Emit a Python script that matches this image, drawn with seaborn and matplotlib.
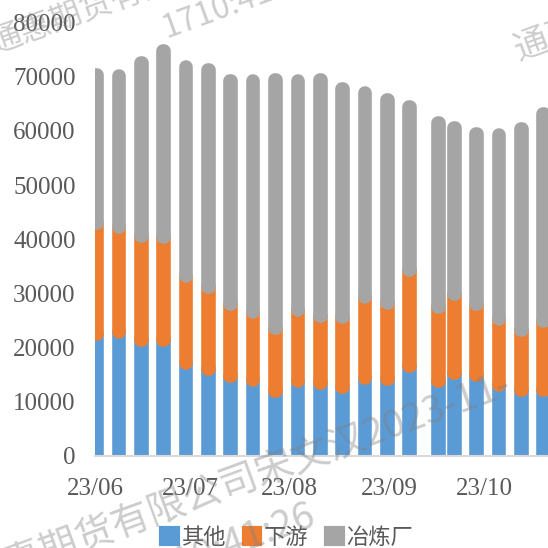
import numpy as np
import pandas as pd
import matplotlib
matplotlib.use("Agg")
import matplotlib.pyplot as plt
import matplotlib.dates as mdates
from matplotlib.patches import Patch
import seaborn as sns

# ---------------- data ----------------
dates = ["2023-06-01", "2023-06-08", "2023-06-15", "2023-06-22", "2023-06-29",
         "2023-07-06", "2023-07-13", "2023-07-20", "2023-07-27", "2023-08-03",
         "2023-08-10", "2023-08-17", "2023-08-24", "2023-08-31", "2023-09-07",
         "2023-09-16", "2023-09-21", "2023-09-28", "2023-10-05", "2023-10-12",
         "2023-10-19"]
other = [22510, 22900, 21480, 21310, 17160, 16090, 14850, 13950, 12030, 13750,
         13430, 12810, 14450, 14190, 16590, 13750, 15260, 14970, 13060, 12120, 12230]
downstream = [20390, 19390, 19090, 19130, 15980, 15000, 13180, 12660, 11630, 13170,
              12380, 12870, 14800, 14080, 17710, 13650, 14610, 13060, 12130, 11110, 12720]
smelter = [27430, 27880, 32000, 34320, 38710, 40190, 41120, 42540, 45680, 42230,
           43530, 41980, 37760, 37450, 30130, 34080, 30560, 31470, 34020, 37140, 38060]
series_names = ["其他", "下游", "冶炼厂"]
colors = ["#5B9BD5", "#ED7D31", "#A5A5A5"]
yticks = [0, 10000, 20000, 30000, 40000, 50000, 60000, 70000, 80000]
x_start = "2023-06-01"
x_end_days = 141.8
watermark_line1 = "通惠期货有限公司宋文汉2023-11-"
watermark_line2 = "1710:41:26"

# ---------------- figure ----------------
sns.set_theme(style="white")
plt.rcParams["font.family"] = ["Liberation Serif", "Noto Sans CJK SC", "DejaVu Sans"]

W = 548
fig = plt.figure(figsize=(5.48, 5.48), dpi=100)
ax = fig.add_axes([95 / W, 1 - 456 / W, 1 - 95 / W, (456 - 22.4) / W])

xnum = mdates.date2num(pd.to_datetime(dates)) + 0.5
df = pd.DataFrame({"x": xnum, "other": other, "down": downstream, "smelt": smelter})
b1 = np.array(other, dtype=float)
b2 = b1 + np.array(downstream, dtype=float)

lw_px = 13.6
lw_pt = lw_px * 72 / 100
fill_days = 0.22
width = fill_days / 5.0  # seaborn scales by the minimum spacing (5 days)

layers = [("other", np.zeros(len(b1))), ("down", b1), ("smelt", b2)]
for (col, bottom), c in zip(layers, colors):
    sns.barplot(data=df, x="x", y=col, native_scale=True, width=width,
                color=c, saturation=1, edgecolor=c, linewidth=lw_pt,
                errorbar=None, bottom=bottom, ax=ax)

for p in ax.patches:
    p.set_joinstyle("round")
    p.set_capstyle("round")

x0 = mdates.date2num(pd.Timestamp(x_start))
ax.set_xlim(x0, x0 + x_end_days)
ax.set_ylim(0, 80000)
ax.set_yticks(yticks)
ax.set_xlabel("")
ax.set_ylabel("")

ax.xaxis.set_major_locator(mdates.MonthLocator())
ax.xaxis.set_major_formatter(mdates.DateFormatter("%y/%m"))

for s in ["top", "right", "left"]:
    ax.spines[s].set_visible(False)
ax.spines["bottom"].set_color("#D9D9D9")
ax.spines["bottom"].set_linewidth(1.5)
ax.spines["bottom"].set_zorder(5)

ax.tick_params(axis="y", length=0, pad=14, labelsize=18, labelcolor="#595959")
ax.tick_params(axis="x", length=4.5, width=1.5, color="#D9D9D9", pad=11,
               labelsize=18, labelcolor="#595959", direction="out")
ax.grid(False)

# legend
handles = [Patch(facecolor=c, edgecolor=c, linewidth=3, joinstyle="round") for c in colors]
leg = fig.legend(handles, series_names, loc="center",
                 bbox_to_anchor=(287 / W, 1 - 537 / W), ncol=3, frameon=False,
                 prop={"family": ["Noto Sans CJK SC"], "size": 16},
                 handlelength=0.75, handleheight=0.75, handletextpad=0.15,
                 columnspacing=0.8, borderpad=0)
for t in leg.get_texts():
    t.set_color("#595959")

# watermark (two visible tiles + one at the top right)
wm_base = dict(family=["Noto Sans CJK SC", "DejaVu Sans"], color="#808080",
               alpha=0.4, rotation_mode="anchor", ha="left", va="center", zorder=20)
tiles = [((-8, 45), (163, 30), 23, 20),
         ((-30, 580), (135, 579), 27.5, 20),
         ((515, 51), (690, 35), 25, 20)]
for (lx, ly), (mx, my), fs, rot in tiles:
    fig.text(lx / W, 1 - ly / W, watermark_line1, fontsize=fs, rotation=rot, **wm_base)
    fig.text(mx / W, 1 - my / W, watermark_line2, fontsize=fs, rotation=rot, **wm_base)

fig.savefig("out.png", dpi=100)
